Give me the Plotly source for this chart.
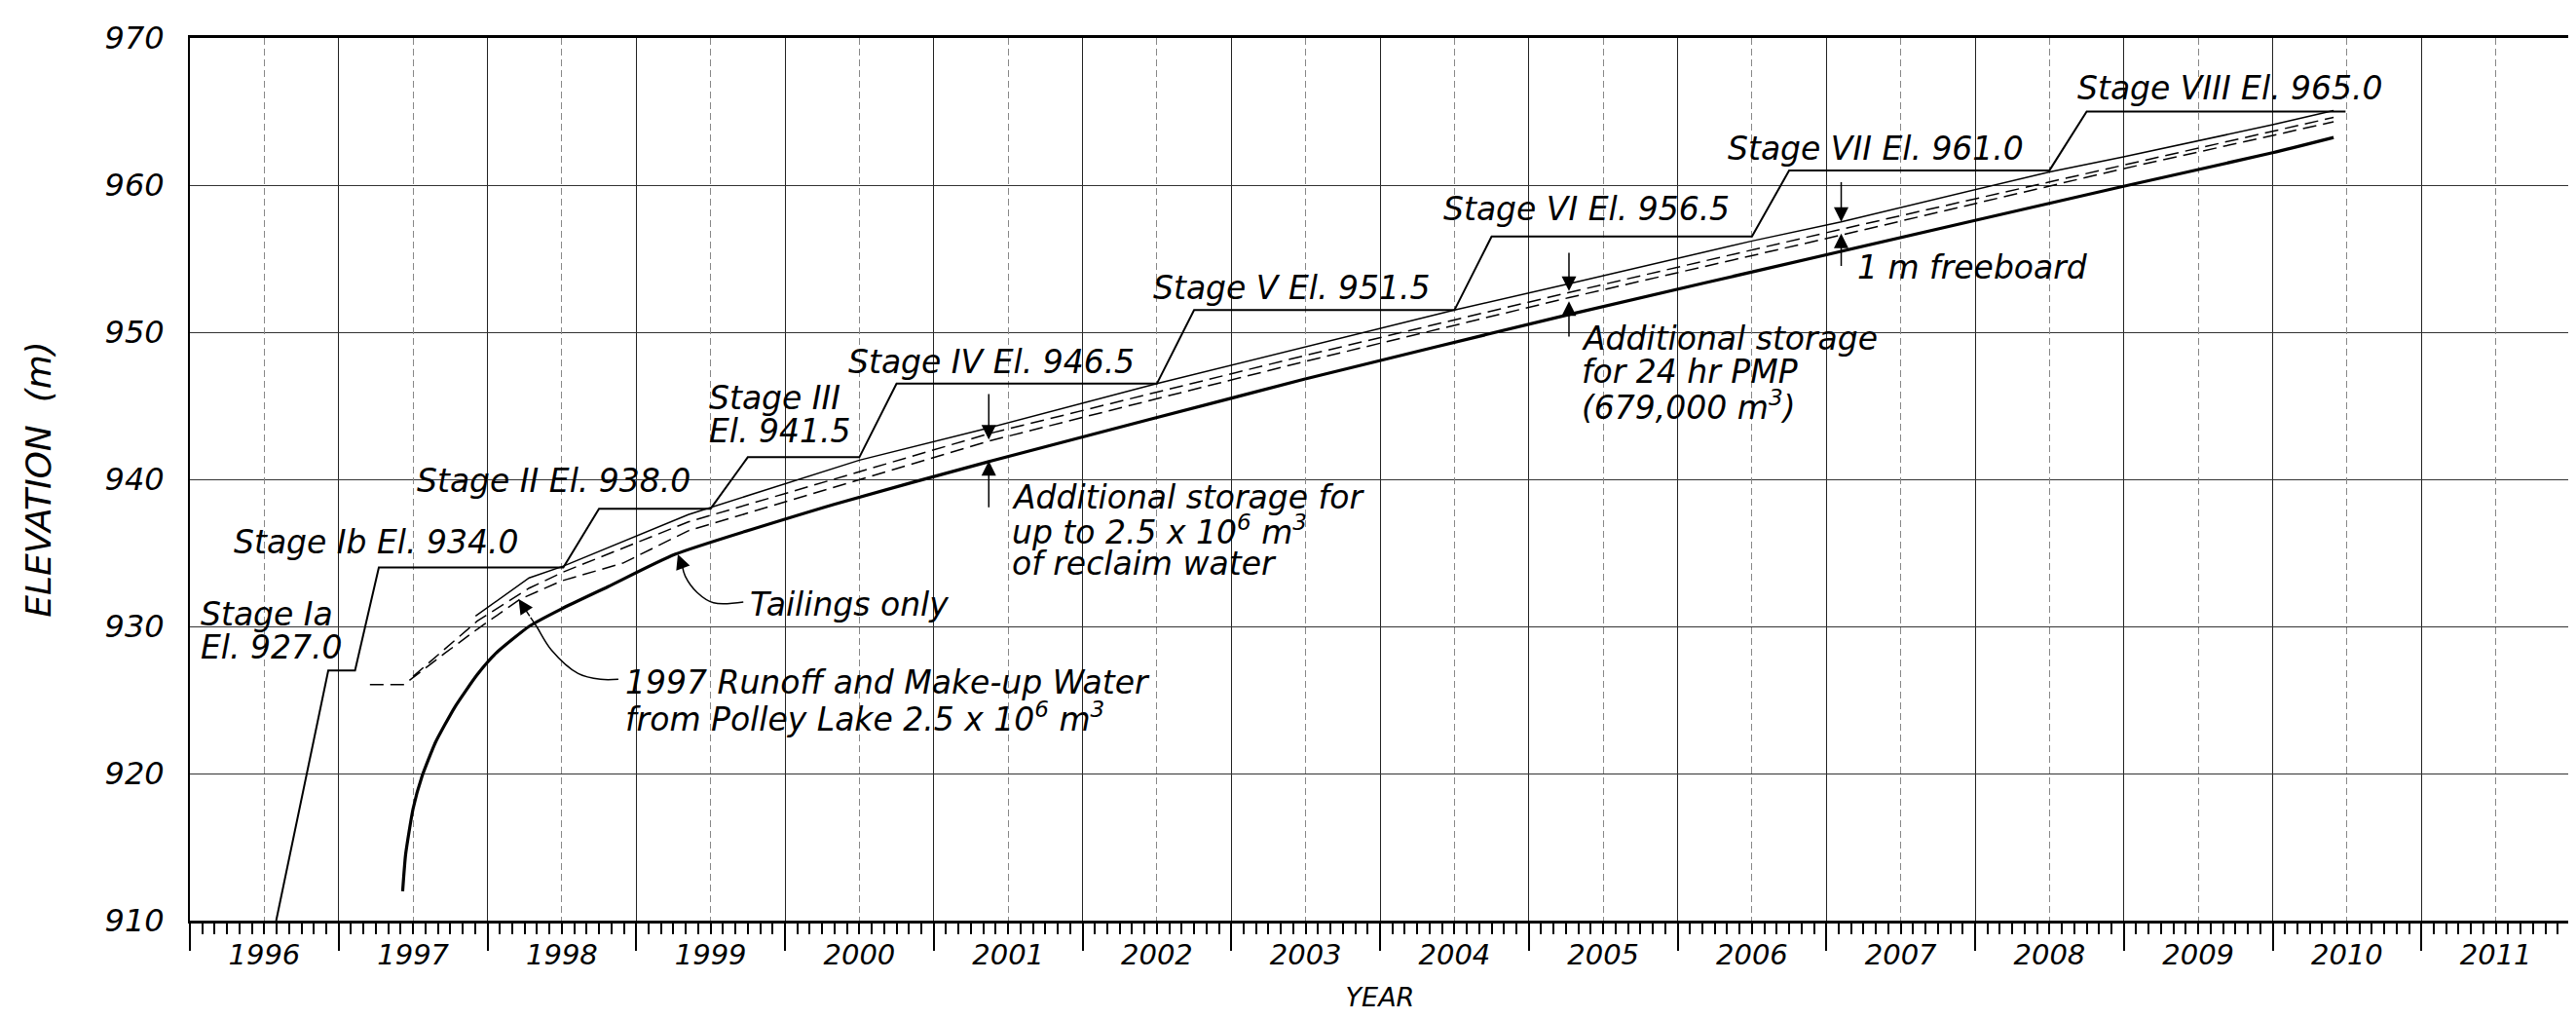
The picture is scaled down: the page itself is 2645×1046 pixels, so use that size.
import plotly.graph_objects as go

# ---------------- data ----------------
years = list(range(1996, 2012))
year_label_pos = [y + 0.5 for y in years]
year_labels = [str(y) for y in years]
elev_ticks = [910, 920, 930, 940, 950, 960, 970]

# staged crest elevation (staircase)
stage_x = [1996.58, 1996.93, 1997.11, 1997.27, 1998.51, 1998.75, 1999.50, 1999.75,
           2000.50, 2000.75, 2002.50, 2002.75, 2004.50, 2004.75, 2006.50, 2006.75,
           2008.50, 2008.75, 2010.49]
stage_y = [910.0, 927.0, 927.0, 934.0, 934.0, 938.0, 938.0, 941.5,
           941.5, 946.5, 946.5, 951.5, 951.5, 956.5, 956.5, 961.0,
           961.0, 965.0, 965.0]

# top thin line (freeboard limit)
top_x = [1997.92, 1998.28, 1998.51, 1999.35, 2000.50, 2001.37, 2002.50, 2003.49,
         2004.50, 2005.27, 2006.50, 2007.10, 2008.50, 2008.99, 2010.00, 2010.41]
top_y = [930.7, 933.3, 934.1, 937.6, 941.3, 943.5, 946.5, 949.0,
         951.5, 953.3, 956.2, 957.5, 960.9, 961.9, 964.1, 965.07]

# upper dashed line (24 hr PMP level)
pmp_x = [1997.50, 1997.93, 1998.28, 1998.51, 1999.35, 2001.37, 2003.49, 2005.27,
         2007.10, 2008.99, 2010.00, 2010.41]
pmp_y = [926.6, 930.35, 932.6, 933.7, 937.1, 943.1, 948.4, 952.7,
         957.0, 961.35, 963.65, 964.6]

# lower dashed line (reclaim water level)
rec_x = [1997.21, 1997.44, 1997.71, 1997.93, 1998.22, 1998.50, 1998.91, 1999.35,
         2001.37, 2003.49, 2005.27, 2007.10, 2008.99, 2010.00, 2010.41]
rec_y = [926.05, 926.05, 928.15, 929.8, 931.85, 933.1, 934.3, 936.5,
         942.6, 948.0, 952.35, 956.6, 961.1, 963.4, 964.3]

# tailings only (thick line)
tail_x = [1997.43, 1997.45, 1997.50, 1997.56, 1997.65, 1997.78, 1997.93, 1998.06,
          1998.28, 1998.50, 1998.81, 1999.26, 2000.33, 2001.37, 2003.49, 2005.27,
          2007.10, 2008.99, 2010.00, 2010.41]
tail_y = [912.0, 914.5, 917.6, 919.8, 922.1, 924.5, 926.7, 928.2,
          930.0, 931.2, 932.7, 934.9, 938.3, 941.2, 946.8, 951.2,
          955.5, 959.9, 962.2, 963.24]

# leader curves
lead_tail_x = [1999.72, 1999.52, 1999.41, 1999.33, 1999.31]
lead_tail_y = [931.65, 931.6, 932.3, 933.4, 934.1]
lead_tail_tip = (1999.28, 934.9)
lead_run_x = [1998.88, 1998.76, 1998.61, 1998.43, 1998.33, 1998.29]
lead_run_y = [926.4, 926.4, 926.8, 928.4, 930.0, 930.6]
lead_run_tip = (1998.21, 931.85)

# dimension arrows: x, (tail, tip) down arrow, (tail, tip) up arrow
dim_arrows = [
    (2001.37, (945.9, 942.7), (938.0, 941.25)),
    (2005.27, (955.5, 952.8), (949.6, 952.1)),
    (2007.10, (960.3, 957.5), (954.4, 956.7)),
]

# text labels: text, left x, centre y
labels = [
    ("Stage Ia", 1996.065, 930.8),
    ("El. 927.0", 1996.065, 928.6),
    ("Stage Ib El. 934.0", 1996.29, 935.7),
    ("Stage II El. 938.0", 1997.52, 939.9),
    ("Stage III", 1999.48, 945.5),
    ("El. 941.5", 1999.48, 943.3),
    ("Stage IV El. 946.5", 2000.42, 948.0),
    ("Stage V El. 951.5", 2002.47, 953.0),
    ("Stage VI El. 956.5", 2004.42, 958.4),
    ("Stage VII El. 961.0", 2006.33, 962.5),
    ("Stage VIII El. 965.0", 2008.68, 966.6),
    ("1 m freeboard", 2007.20, 954.4),
    ("Additional storage", 2005.35, 949.6),
    ("for 24 hr PMP", 2005.35, 947.3),
    ("(679,000 m<sup>3</sup>)", 2005.35, 945.0),
    ("Additional storage for", 2001.52, 938.8),
    ("up to 2.5 x 10<sup>6</sup> m<sup>3</sup>", 2001.52, 936.5),
    ("of reclaim water", 2001.52, 934.3),
    ("1997 Runoff and Make-up Water", 1998.92, 926.2),
    ("from Polley Lake 2.5 x 10<sup>6</sup> m<sup>3</sup>", 1998.92, 923.8),
    ("Tailings only", 1999.76, 931.5),
]

FONT = "DejaVu Sans"

fig = go.Figure()

fig.add_trace(go.Scatter(x=stage_x, y=stage_y, mode="lines",
                         line=dict(color="black", width=2), hoverinfo="skip"))
fig.add_trace(go.Scatter(x=top_x, y=top_y, mode="lines",
                         line=dict(color="black", width=1.5), hoverinfo="skip"))
fig.add_trace(go.Scatter(x=pmp_x, y=pmp_y, mode="lines",
                         line=dict(color="black", width=1.5, dash="14px,7px"), hoverinfo="skip"))
fig.add_trace(go.Scatter(x=rec_x, y=rec_y, mode="lines",
                         line=dict(color="black", width=1.5, dash="14px,7px"), hoverinfo="skip"))
fig.add_trace(go.Scatter(x=tail_x, y=tail_y, mode="lines",
                         line=dict(color="black", width=3.2, shape="spline", smoothing=0.5),
                         hoverinfo="skip"))
fig.add_trace(go.Scatter(x=lead_tail_x, y=lead_tail_y, mode="lines",
                         line=dict(color="black", width=1.5, shape="spline"), hoverinfo="skip"))
fig.add_trace(go.Scatter(x=lead_run_x, y=lead_run_y, mode="lines",
                         line=dict(color="black", width=1.5, shape="spline"), hoverinfo="skip"))
# empty trace so the label axis is attached
fig.add_trace(go.Scatter(x=[], y=[], xaxis="x2", mode="lines", hoverinfo="skip"))

annotations = []
for text, x, y in labels:
    annotations.append(dict(text=text, x=x, y=y, xref="x", yref="y",
                            xanchor="left", yanchor="middle", showarrow=False, borderpad=0,
                            font=dict(family=FONT, size=33, color="black", style="italic")))

def arrow(tip, tail, head=2, size=2.0):
    return dict(x=tip[0], y=tip[1], ax=tail[0], ay=tail[1], xref="x", yref="y",
                axref="x", ayref="y", text="", showarrow=True, arrowhead=head,
                arrowsize=size, arrowwidth=1.5, arrowcolor="black")

for x, (d_tail, d_tip), (u_tail, u_tip) in dim_arrows:
    annotations.append(arrow((x, d_tip), (x, d_tail)))
    annotations.append(arrow((x, u_tip), (x, u_tail)))

annotations.append(arrow(lead_tail_tip, (lead_tail_x[-1], lead_tail_y[-1])))
annotations.append(arrow(lead_run_tip, (lead_run_x[-1], lead_run_y[-1])))

fig.update_layout(
    width=2645, height=1046,
    margin=dict(l=187, r=12, t=30, b=109),
    paper_bgcolor="white", plot_bgcolor="white",
    showlegend=False,
    annotations=annotations,
    xaxis=dict(
        range=[1996, 2012], tickmode="linear", tick0=1996, dtick=1,
        ticks="outside", ticklen=28, tickwidth=1.5, tickcolor="black",
        showticklabels=False, showgrid=True, gridcolor="#222", gridwidth=1,
        showline=True, mirror=True, linecolor="black", linewidth=2.5,
        zeroline=False,
        minor=dict(tickmode="linear", tick0=1996, dtick=1 / 12, ticks="outside",
                   ticklen=11, tickwidth=1.5, tickcolor="black", showgrid=False),
    ),
    xaxis2=dict(
        range=[1996, 2012], overlaying="x", side="bottom", anchor="y",
        tickmode="array", tickvals=year_label_pos, ticktext=year_labels,
        ticks="", showgrid=True, gridcolor="#888", gridwidth=1, griddash="7px,4px",
        showline=False, zeroline=False, ticklabelstandoff=15,
        tickfont=dict(family=FONT, size=29, color="black", style="italic"),
        title=dict(text="YEAR", standoff=18,
                   font=dict(family=FONT, size=27, color="black", style="italic")),
    ),
    yaxis=dict(
        range=[910, 970], tickmode="array", tickvals=elev_ticks,
        ticks="", showgrid=True, gridcolor="#333", gridwidth=1,
        showline=True, mirror=True, linecolor="black", linewidth=2,
        zeroline=False, ticklabelstandoff=18,
        tickfont=dict(family=FONT, size=32, color="black", style="italic"),
        title=dict(text="ELEVATION  (m)", standoff=44,
                   font=dict(family=FONT, size=36, color="black", style="italic")),
    ),
)

fig.write_html("out.html")
